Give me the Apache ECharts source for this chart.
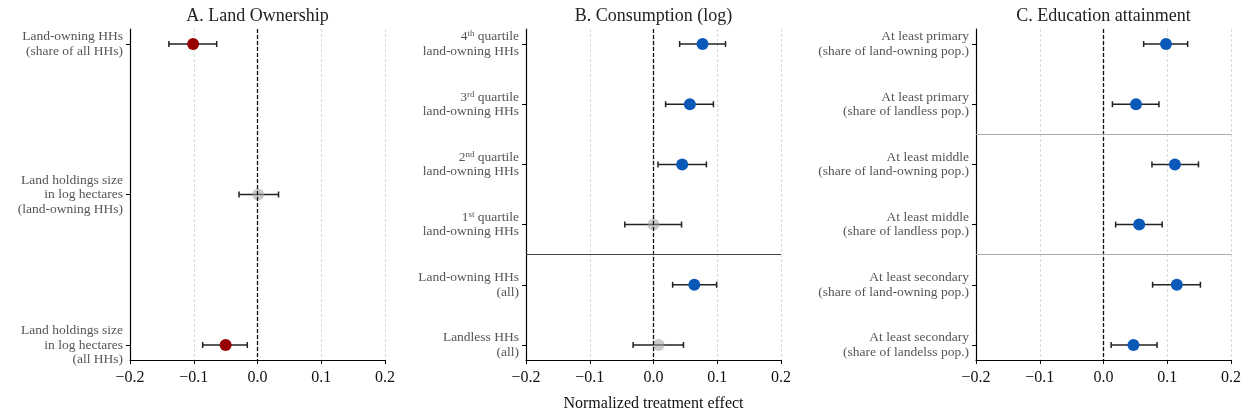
<!DOCTYPE html>
<html>
<head>
<meta charset="utf-8">
<script src="https://cdn.jsdelivr.net/npm/echarts@6/dist/echarts.min.js"></script>
<style>
  html, body { margin: 0; padding: 0; background: #fff; }
  #chart { width: 1250px; height: 417px; }
</style>
</head>
<body>
<div id="chart"></div>
<script>
// Panel A: land ownership
const landLabels = [
  "Land-owning HHs\n(share of all HHs)",
  "Land holdings size\nin log hectares\n(land-owning HHs)",
  "Land holdings size\nin log hectares\n(all HHs)"
];
const landEst = [-0.101, 0.001, -0.050];
const landLo = [-0.139, -0.029, -0.086];
const landHi = [-0.064, 0.033, -0.016];

// Panel B: consumption (log)
const consLabels = [
  "4th quartile\nland-owning HHs",
  "3rd quartile\nland-owning HHs",
  "2nd quartile\nland-owning HHs",
  "1st quartile\nland-owning HHs",
  "Land-owning HHs\n(all)",
  "Landless HHs\n(all)"
];
const consEst = [0.077, 0.057, 0.045, 0.000, 0.064, 0.008];
const consLo = [0.041, 0.019, 0.007, -0.045, 0.030, -0.032];
const consHi = [0.113, 0.094, 0.083, 0.044, 0.099, 0.047];
const consBreaks = [3.5];

// Panel C: education attainment
const eduLabels = [
  "At least primary\n(share of land-owning pop.)",
  "At least primary\n(share of landless pop.)",
  "At least middle\n(share of land-owning pop.)",
  "At least middle\n(share of landless pop.)",
  "At least secondary\n(share of land-owning pop.)",
  "At least secondary\n(share of landelss pop.)"
];
const eduEst = [0.098, 0.051, 0.112, 0.056, 0.115, 0.047];
const eduLo = [0.063, 0.014, 0.076, 0.019, 0.077, 0.012];
const eduHi = [0.132, 0.087, 0.149, 0.092, 0.152, 0.084];
const eduBreaks = [1.5, 3.5];

const panelTitles = ["A. Land Ownership", "B. Consumption (log)", "C. Education attainment"];
const xTitle = "Normalized treatment effect";

const SERIF = "'Liberation Serif', 'DejaVu Serif', serif";
const RED = "#960000";
const BLUE = "#0a58b8";
const GREY = "rgba(160,160,160,0.55)";

const chart = echarts.init(document.getElementById("chart"), null, { renderer: "canvas" });

const panels = [
  { labels: landLabels, est: landEst, lo: landLo, hi: landHi, breaks: [], breakColor: "#444", left: 130 },
  { labels: consLabels, est: consEst, lo: consLo, hi: consHi, breaks: consBreaks, breakColor: "#444", left: 526 },
  { labels: eduLabels, est: eduEst, lo: eduLo, hi: eduHi, breaks: eduBreaks, breakColor: "#aaa", left: 976 }
];
const plotW = 255;

// turn "4th quartile" into rich text with a superscript
function toRich(label) {
  return label.split("\n").map(line => {
    const m = line.match(/^(\d)(st|nd|rd|th)(.*)$/);
    if (m) return "{n|" + m[1] + "}{s|" + m[2] + "}{n|" + m[3] + "}";
    return "{n|" + line + "}";
  }).join("\n");
}

function pointColor(lo, hi) {
  if (lo > 0) return BLUE;
  if (hi < 0) return RED;
  return GREY;
}

const grids = [], xAxes = [], yAxes = [], series = [], graphics = [];

panels.forEach((p, i) => {
  const n = p.labels.length;
  const pad = n === 3 ? 0.1 : 0.25;
  const idx = p.labels.map((_, k) => k);

  grids.push({ left: p.left, width: plotW, top: 29, bottom: 57 });

  xAxes.push({
    gridIndex: i,
    type: "value",
    min: -0.2,
    max: 0.2,
    interval: 0.1,
    axisLine: { onZero: false, lineStyle: { color: "#000", width: 1.2 } },
    axisTick: { show: true, length: 4, lineStyle: { color: "#000", width: 1 } },
    axisLabel: {
      fontFamily: SERIF, fontSize: 16, color: "#111", margin: 10,
      formatter: v => (v < -1e-9 ? "\u2212" : "") + Math.abs(v).toFixed(1)
    },
    splitLine: { show: true, lineStyle: { color: "#d0d0d0", type: [3, 2], width: 0.8 } },
    name: i === 1 ? xTitle : "",
    nameLocation: "middle",
    nameGap: 36,
    nameTextStyle: { fontFamily: SERIF, fontSize: 16, color: "#111" }
  });

  yAxes.push({
    gridIndex: i,
    type: "value",
    inverse: true,
    min: -pad,
    max: n - 1 + pad,
    axisLine: { show: true, onZero: false, lineStyle: { color: "#000", width: 1.2 } },
    axisTick: { show: true, length: 4, customValues: idx, lineStyle: { color: "#000", width: 1 } },
    axisLabel: {
      customValues: idx,
      margin: 7,
      formatter: v => toRich(p.labels[Math.round(v)]),
      rich: {
        n: { fontFamily: SERIF, fontSize: 13.5, color: "#555", lineHeight: 14.5, align: "right" },
        s: { fontFamily: SERIF, fontSize: 9, color: "#555", lineHeight: 14.5, verticalAlign: "top", padding: [0, 0, 6, 0], align: "right" }
      }
    },
    splitLine: { show: false }
  });

  // error bars with caps
  series.push({
    type: "custom",
    xAxisIndex: i,
    yAxisIndex: i,
    z: 3,
    silent: true,
    data: idx.map(k => [p.lo[k], p.hi[k], k]),
    renderItem: (params, api) => {
      const a = api.coord([api.value(0), api.value(2)]);
      const b = api.coord([api.value(1), api.value(2)]);
      const st = { stroke: "#222", lineWidth: 1.5 };
      const cap = 3;
      return {
        type: "group",
        children: [
          { type: "line", shape: { x1: a[0], y1: a[1], x2: b[0], y2: b[1] }, style: st },
          { type: "line", shape: { x1: a[0], y1: a[1] - cap, x2: a[0], y2: a[1] + cap }, style: st },
          { type: "line", shape: { x1: b[0], y1: b[1] - cap, x2: b[0], y2: b[1] + cap }, style: st }
        ]
      };
    },
    markLine: {
      silent: true,
      symbol: "none",
      label: { show: false },
      data: [{ xAxis: 0, lineStyle: { color: "#111", type: [4, 2], width: 1.3 } }]
        .concat(p.breaks.map(b => ({ yAxis: b, lineStyle: { color: p.breakColor, type: "solid", width: 1 } })))
    }
  });

  // point estimates
  series.push({
    type: "scatter",
    xAxisIndex: i,
    yAxisIndex: i,
    z: 4,
    symbolSize: 12,
    data: idx.map(k => ({
      value: [p.est[k], k],
      itemStyle: { color: pointColor(p.lo[k], p.hi[k]), opacity: 1 }
    }))
  });

  graphics.push({
    type: "text",
    x: p.left + plotW / 2,
    y: 7,
    style: { text: panelTitles[i], font: "18px " + SERIF, fill: "#222", textAlign: "center" }
  });
});

chart.setOption({
  animation: false,
  backgroundColor: "#fff",
  grid: grids,
  xAxis: xAxes,
  yAxis: yAxes,
  series: series,
  graphic: graphics
});
</script>
</body>
</html>
